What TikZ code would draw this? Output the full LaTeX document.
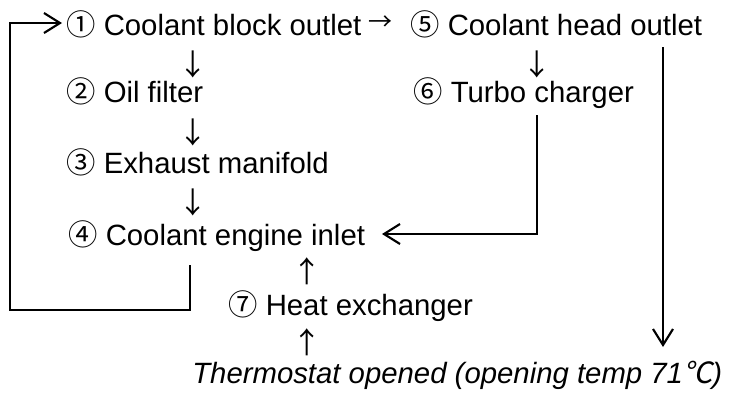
\documentclass[tikz,border=0pt]{standalone}
\usepackage{fontspec}
\setmainfont{Liberation Sans}
\newfontfamily\symfont{Noto Sans CJK JP}
\newfontfamily\symslant[FakeSlant=0.2]{Noto Sans CJK JP}
\usetikzlibrary{positioning,arrows.meta}

\newcommand{\circnum}[1]{{\symfont #1}}
\newcommand{\smallarrow}[1]{{\symfont #1}}

\begin{document}
\begin{tikzpicture}[x=0.75pt, y=-0.75pt, font=\fontsize{22}{26}\selectfont,
  part/.style={anchor=base west, inner sep=0pt},
  sign/.style={inner sep=0pt},
  flow/.style={line width=1.6pt, -{Straight Barb[length=12pt, width=15pt, line width=1.6pt]}}]
  \useasboundingbox (0,0) rectangle (738,393);

  \node[part] (block-out) at (66,35) {\circnum{①} Coolant block outlet};
  \node[sign] (right-1) at (380,23) {\symfont\fontsize{18}{21}\selectfont →};
  \node[part] (head-out) at (410,35) {\circnum{⑤} Coolant head outlet};

  \node[sign] (down-1) at (193,64) {\smallarrow{↓}};
  \node[part] (oil-filter) at (66,102) {\circnum{②} Oil filter};
  \node[sign] (down-2) at (193,132) {\smallarrow{↓}};
  \node[part] (exh-manifold) at (66,173) {\circnum{③} Exhaust manifold};
  \node[sign] (down-3) at (193,202) {\smallarrow{↓}};
  \node[part] (engine-in) at (68,245) {\circnum{④} Coolant engine inlet};

  \node[sign] (down-4) at (537,64) {\smallarrow{↓}};
  \node[part] (turbo) at (413,102) {\circnum{⑥} Turbo charger};

  \node[sign] (up-1) at (307,271) {\smallarrow{↑}};
  \node[part] (heat-ex) at (228,315) {\circnum{⑦} Heat exchanger};
  \node[sign] (up-2) at (307,342) {\smallarrow{↑}};
  \node[part] (thermostat) at (192,383) {\itshape Thermostat opened (opening temp 71{\symslant ℃})};

  \coordinate (turbo-drop) at (537,115);
  \coordinate (inlet-in) at (382,234);
  \coordinate (inlet-drop) at (190,265);
  \coordinate (loop-corner) at (10,310);
  \coordinate (block-in) at (62,23);
  \coordinate (head-drop) at (663,47);
  \coordinate (thermo-in) at (663,347);

  \draw[flow] (turbo-drop) |- (inlet-in);
  \draw[flow] (inlet-drop) |- (loop-corner) |- (block-in);
  \draw[flow] (head-drop) -- (thermo-in);
\end{tikzpicture}
\end{document}
